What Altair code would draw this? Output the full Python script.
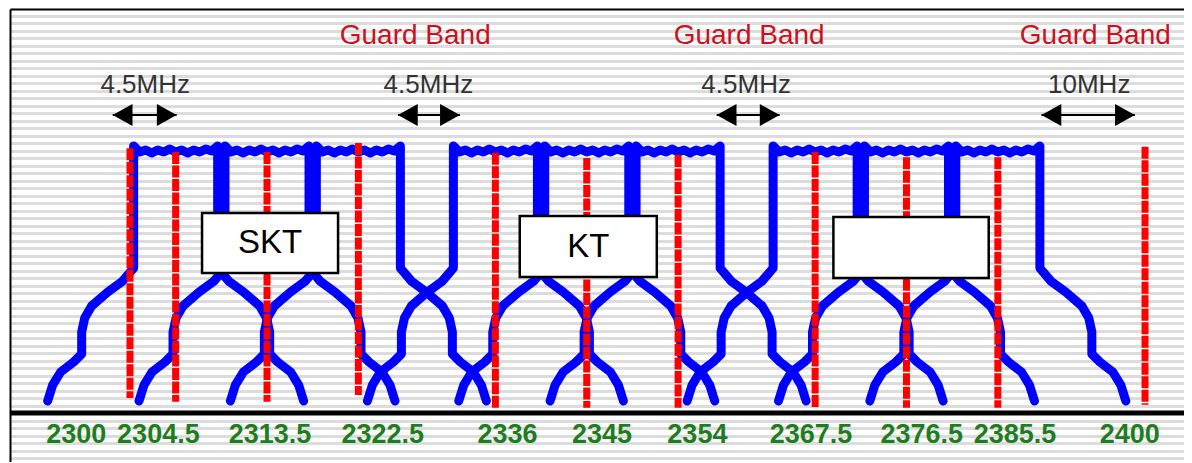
import altair as alt
import pandas as pd

# ---------------- data ----------------
# channel centre frequencies (MHz)
channel_centres = [2304.5, 2313.5, 2322.5, 2336, 2345, 2354, 2367.5, 2376.5, 2385.5]

# one channel's spectrum mask: offset from centre (MHz) and level (drawing units)
wing_offset = [12.61, 12.12, 11.33, 10.05, 9.26, 9.26, 8.96, 8.28, 6.70, 5.22, 4.14, 4.14]
wing_level = [1.6, 3.73, 5.47, 6.8, 7.87, 10.8, 12.67, 14.27, 16.13, 17.6, 19.33, 35.6]
top_offset = [-3.55, -2.96, -2.36, -1.77, -1.18, -0.59, 0, 0.59, 1.18, 1.77, 2.36, 2.96, 3.55]
top_level = [34.8, 35.07, 34.67, 35.07, 34.8, 35.2, 34.8, 35.07, 34.67, 35.07, 34.8, 35.2, 34.93]

# red marker lines
marker_freqs = [2300, 2304.5, 2313.5, 2322.5, 2336, 2345, 2354, 2367.5, 2376.5, 2385.5, 2400]
marker_top = [35.3, 34.8, 34.8, 36.0, 34.7, 34.0, 34.4, 34.8, 34.1, 34.1, 35.5]
marker_bottom = [2.0, 1.5, 1.5, 2.4, 0.7, 0.7, 0.7, 0.8, 0.7, 0.7, 1.1]

# frequency labels under the base line and where they are printed
tick_labels = ["2300", "2304.5", "2313.5", "2322.5", "2336", "2345", "2354",
               "2367.5", "2376.5", "2385.5", "2400"]
label_at = [2294.7, 2302.8, 2313.8, 2324.9, 2337.2, 2346.5, 2355.9,
            2367.1, 2378.0, 2387.2, 2398.5]

# operator boxes
block_names = ["SKT", "KT", ""]
block_from = [2307.1, 2338.4, 2369.3]
block_to = [2320.5, 2351.9, 2384.6]
block_top = [26.67, 26.27, 26.13]
block_bottom = [18.67, 18.13, 18.0]

# guard band annotations
guard_text = ["Guard Band", "Guard Band", "Guard Band"]
guard_at = [2328.1, 2361.0, 2395.1]

gap_text = ["4.5MHz", "4.5MHz", "4.5MHz", "10MHz"]
gap_text_at = [2301.5, 2329.4, 2360.7, 2394.5]
gap_from = [2298.3, 2326.4, 2357.8, 2389.8]
gap_to = [2304.6, 2332.5, 2364.0, 2399.0]

# ---------------- tables ----------------
profile_off = [-o for o in wing_offset] + top_offset + wing_offset[::-1]
profile_lvl = wing_level + top_level + wing_level[::-1]
rows = []
for i, c in enumerate(channel_centres):
    for k, (o, l) in enumerate(zip(profile_off, profile_lvl)):
        rows.append({"ch": i, "k": k, "f": c + o, "level": l})
mask = pd.DataFrame(rows)

markers = pd.DataFrame({"f": marker_freqs, "top": marker_top, "bottom": marker_bottom})
ticks = pd.DataFrame({"t": tick_labels, "at": label_at})
blocks = pd.DataFrame({"name": block_names, "x0": block_from, "x1": block_to,
                       "y0": block_top, "y1": block_bottom})
guards = pd.DataFrame({"t": guard_text, "at": guard_at})
gaps = pd.DataFrame({"t": gap_text, "at": gap_text_at, "a": gap_from, "b": gap_to})
base = pd.DataFrame({"level": [0]})

# ---------------- scales / axes ----------------
xscale = alt.Scale(domain=[2288.18, 2403.84], nice=False, zero=False)
yscale = alt.Scale(domain=[-6.53, 53.87], nice=False, zero=False)
xaxis = alt.Axis(orient="top", domain=True, domainColor="black", domainWidth=2,
                 ticks=False, labels=False, grid=False, title=None)
yaxis = alt.Axis(orient="left", domain=True, domainColor="black", domainWidth=2,
                 ticks=False, labels=False, grid=True, gridColor="#dcdcdc",
                 gridWidth=3, values=list(range(-6, 54)), title=None)


def X(field):
    return alt.X(field, type="quantitative", scale=xscale, axis=xaxis)


def Y(field):
    return alt.Y(field, type="quantitative", scale=yscale, axis=yaxis)


def YD(v):
    return alt.YDatum(v, type="quantitative", scale=yscale, axis=yaxis)


masks = alt.Chart(mask).mark_line(
    color="#0000ff", strokeWidth=9, strokeCap="round", strokeJoin="round"
).encode(x=X("f"), y=Y("level"), detail="ch:N", order="k:Q")

reds = alt.Chart(markers).mark_rule(
    color="#ff0000", strokeWidth=7, strokeDash=[12, 1.5]
).encode(x=X("f"), y=Y("top"), y2="bottom")

boxes = alt.Chart(blocks).mark_rect(
    fill="white", stroke="black", strokeWidth=2.5
).encode(x=X("x0"), x2="x1", y=Y("y0"), y2="y1")

box_text = alt.Chart(blocks).transform_calculate(
    xc="(datum.x0 + datum.x1) / 2", yc="(datum.y0 + datum.y1) / 2"
).mark_text(font="Liberation Sans", fontSize=33, color="black", baseline="middle").encode(
    x=X("xc"), y=Y("yc"), text="name:N")

baseline = alt.Chart(base).mark_rule(color="black", strokeWidth=5).encode(y=Y("level"))

tick_text = alt.Chart(ticks).mark_text(
    font="Liberation Sans", fontWeight="bold", fontSize=27, color="#1e7d1e", baseline="middle"
).encode(x=X("at"), y=YD(-2.93), text="t:N")

guard_lbl = alt.Chart(guards).mark_text(
    font="Liberation Sans", fontSize=28, color="#cc1020", baseline="middle"
).encode(x=X("at"), y=YD(50.27), text="t:N")

gap_lbl = alt.Chart(gaps).mark_text(
    font="Liberation Sans", fontSize=26, color="#333333", baseline="middle"
).encode(x=X("at"), y=YD(43.73), text="t:N")

shaft = alt.Chart(gaps).mark_rule(color="black", strokeWidth=2).encode(
    x=X("a"), x2="b", y=YD(39.73))

head_l = alt.Chart(gaps).mark_point(
    shape="M0,0L1.8,-1L1.8,1Z", filled=True, color="black", opacity=1, size=484
).encode(x=X("a"), y=YD(39.73))

head_r = alt.Chart(gaps).mark_point(
    shape="M0,0L-1.8,-1L-1.8,1Z", filled=True, color="black", opacity=1, size=484
).encode(x=X("b"), y=YD(39.73))

chart = alt.layer(
    masks, reds, boxes, box_text, baseline, tick_text, guard_lbl, gap_lbl, shaft, head_l, head_r
).properties(
    width=1174, height=453,
    autosize=alt.AutoSizeParams(type="none"),
    padding={"left": 2, "top": 1, "right": 0, "bottom": 0},
    background="white",
).configure_view(strokeWidth=0)

chart.save("out.html", embed_options={"renderer": "svg", "actions": False})
